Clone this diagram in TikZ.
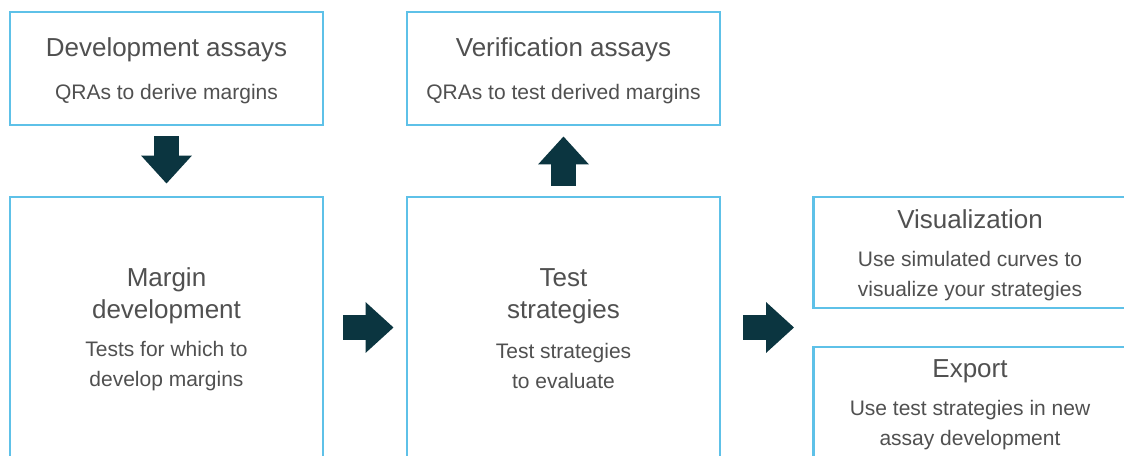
\documentclass[tikz,border=0pt]{standalone}
\usepackage{fontspec}
\setmainfont{Liberation Sans}
\usetikzlibrary{arrows.meta,positioning,calc}
\definecolor{boxblue}{RGB}{94,193,232}
\definecolor{arrowteal}{RGB}{11,53,64}
\definecolor{txtgray}{RGB}{80,80,80}
\tikzset{
  box/.style = {rectangle, draw=boxblue, line width=1.4pt, inner sep=0pt, minimum width=156.5pt},
  title/.style = {text=txtgray, font=\fontsize{13}{16}\selectfont, align=center},
  subtitle/.style = {text=txtgray, font=\fontsize{10.5}{15}\selectfont, align=center},
  flow/.style = {draw=arrowteal, line width=12.5pt, -{Triangle[length=14pt, width=24.5pt]}},
}

\begin{document}
\begin{tikzpicture}[x=0.5pt, y=-0.5pt]

\path[use as bounding box, clip] (0,0) rectangle (1124,455);
\fill[white] (0,0) rectangle (1124,455);

% top row
\node[box, minimum height=56.5pt] (dev) at (166.5,68.5) {};
\node[title] (dev-t) at (166.5,50) {Development assays};
\node[subtitle] (dev-s) at (166.5,94) {QRAs to derive margins};

\node[box, minimum height=56.5pt] (ver) at (563.5,68.5) {};
\node[title] (ver-t) at (563.5,50) {Verification assays};
\node[subtitle] (ver-s) at (563.5,94) {QRAs to test derived margins};

% middle row (runs off the bottom)
\node[box, minimum height=141.5pt] (margin) at (166.5,338.5) {};
\node[title] (margin-t) at (166.5,296) {Margin\\development};
\node[subtitle] (margin-s) at (166.5,366) {Tests for which to\\develop margins};

\node[box, minimum height=141.5pt] (test) at (563.5,338.5) {};
\node[title] (test-t) at (563.5,296) {Test\\strategies};
\node[subtitle] (test-s) at (563.5,366) {Test strategies\\to evaluate};

% right column (runs off the right edge)
\node[box, minimum height=55.5pt] (vis) at (970,252.5) {};
\node[title] (vis-t) at (970,219) {Visualization};
\node[subtitle] (vis-s) at (970,276) {Use simulated curves to\\visualize your strategies};

\node[box, minimum height=66.5pt] (export) at (970,413.5) {};
\node[title] (export-t) at (970,371) {Export};
\node[subtitle] (export-s) at (970,425) {Use test strategies in new\\assay development};

\coordinate (split) at ($(vis.south west)!0.5!(export.north west)$);

% block arrows
\draw[flow] ([yshift=-5pt]dev.south) -- ([yshift=6pt]margin.north);
\draw[flow] ([yshift=5pt]test.north) -- ([yshift=-5pt]ver.south);
\draw[flow] ($(margin.east |- split)+(9.5pt,0)$) -- ($(test.west |- split)+(-6pt,0)$);
\draw[flow] ($(test.east |- split)+(11pt,0)$) -- ($(split)+(-9pt,0)$);

\end{tikzpicture}
\end{document}
